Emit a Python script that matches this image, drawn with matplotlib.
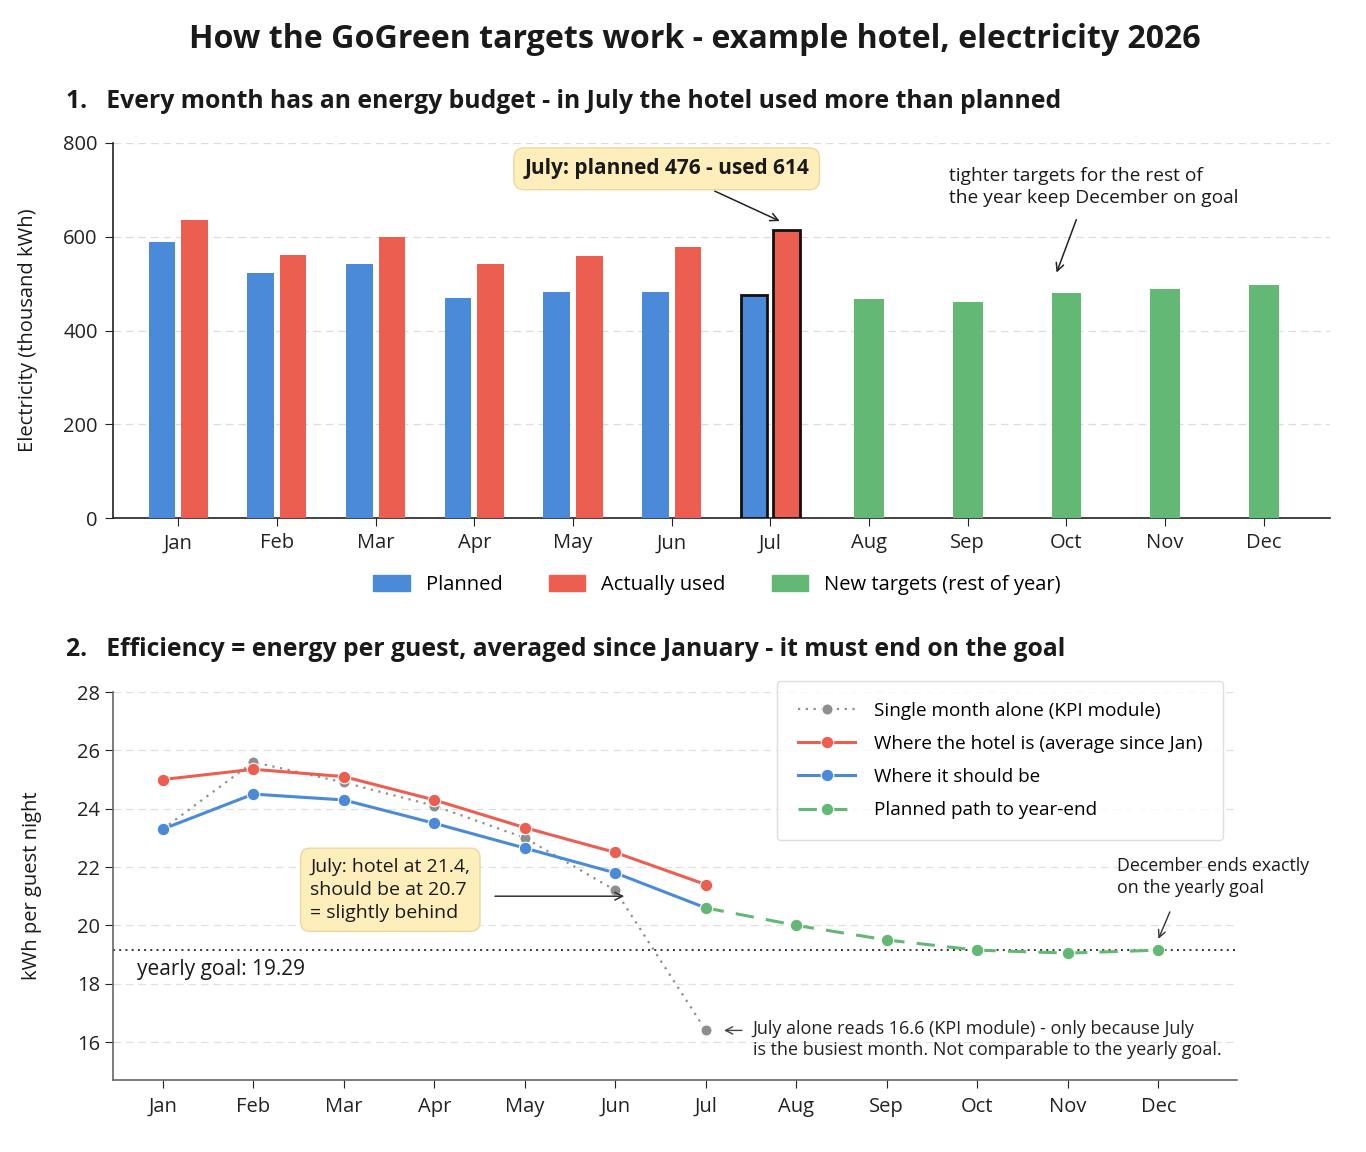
import matplotlib
matplotlib.use("Agg")
import matplotlib.pyplot as plt
from matplotlib.patches import Patch
import numpy as np

plt.rcParams['font.family'] = ['Open Sans', 'DejaVu Sans']

# ---------------- data ----------------
months = ["Jan", "Feb", "Mar", "Apr", "May", "Jun", "Jul", "Aug", "Sep", "Oct", "Nov", "Dec"]
planned = [588, 522, 541, 469, 482, 482, 476]
actual = [635, 562, 600, 542, 559, 578, 614]
new_targets = [468, 460, 481, 489, 498]

single_month = [23.3, 25.6, 24.9, 24.1, 23.0, 21.2, 16.4]
hotel_avg = [25.0, 25.35, 25.1, 24.3, 23.35, 22.5, 21.4]
should_be = [23.3, 24.5, 24.3, 23.5, 22.65, 21.8, 20.6]
planned_path = [20.6, 20.0, 19.5, 19.15, 19.05, 19.15]
goal_line = 19.15

BLUE = "#4a8ad8"
RED = "#ec5f50"
GREEN = "#62b874"
GRAY = "#8e8e8e"
BOX_FC = "#fdeebb"
BOX_EC = "#ead9a0"
TXT = "#1a1a1a"

fig = plt.figure(figsize=(13.66, 11.52), dpi=100)

fig.text(0.509, 0.966, "How the GoGreen targets work - example hotel, electricity 2026",
         ha="center", va="center", fontsize=23.1, fontweight="bold", color=TXT)
fig.text(66/1366, 1-101/1152,
         "1.   Every month has an energy budget - in July the hotel used more than planned",
         ha="left", va="center", fontsize=17.8, fontweight="bold", color=TXT)
fig.text(66/1366, 1-650/1152,
         "2.   Efficiency = energy per guest, averaged since January - it must end on the goal",
         ha="left", va="center", fontsize=17.8, fontweight="bold", color=TXT)

# ---------------- top chart ----------------
ax1 = fig.add_axes([113/1366, 1-518/1152, (1330-113)/1366, (518-143)/1152])
x = np.arange(len(months))
xp = x[:len(planned)]
xn = x[len(planned):]
w = 0.27
off = 0.165
edge_p = ["none"] * (len(planned) - 1) + ["#111111"]
lw_p = [0] * (len(planned) - 1) + [2.0]
ax1.bar(xp - off, planned, width=w, color=BLUE, edgecolor=edge_p, linewidth=lw_p, zorder=3)
ax1.bar(xp + off, actual, width=w, color=RED, edgecolor=edge_p, linewidth=lw_p, zorder=3)
ax1.bar(xn, new_targets, width=0.30, color=GREEN, zorder=3)

ax1.set_xlim(-0.66, 11.67)
ax1.set_ylim(0, 800)
ax1.set_yticks([0, 200, 400, 600, 800])
ax1.set_xticks(x)
ax1.set_xticklabels(months)
ax1.tick_params(axis="both", labelsize=14.5, colors="#222222", length=6, pad=5)
ax1.set_ylabel("Electricity (thousand kWh)", fontsize=14.5, color=TXT, labelpad=18)
ax1.grid(axis="y", linestyle=(0, (6, 4)), color="#dcdcdc", linewidth=0.9, zorder=0)
for s in ["top", "right"]:
    ax1.spines[s].set_visible(False)
for s in ["left", "bottom"]:
    ax1.spines[s].set_color("#222222")
    ax1.spines[s].set_linewidth(1.2)

ax1.text(4.95, 745, "July: planned %d - used %d" % (planned[6], actual[6]),
         ha="center", va="center", fontsize=15, fontweight="bold", color=TXT, zorder=5,
         bbox=dict(boxstyle="round,pad=0.5,rounding_size=0.5", fc=BOX_FC, ec=BOX_EC, lw=1))
ax1.annotate("", xy=(6.12, 631), xytext=(5.41, 700),
             arrowprops=dict(arrowstyle="->", color="#222222", lw=1.1, mutation_scale=14))
ax1.text(7.81, 706, "tighter targets for the rest of\nthe year keep December on goal",
         ha="left", va="center", fontsize=13.8, color=TXT, linespacing=1.3)
ax1.annotate("", xy=(8.89, 518), xytext=(9.11, 642),
             arrowprops=dict(arrowstyle="->", color="#222222", lw=1.1, mutation_scale=14))

handles = [Patch(color=BLUE, label="Planned"),
           Patch(color=RED, label="Actually used"),
           Patch(color=GREEN, label="New targets (rest of year)")]
fig.legend(handles=handles, loc="center", bbox_to_anchor=(0.525, 1-585/1152), ncol=3,
           frameon=False, fontsize=14.5, handlelength=1.8, handleheight=0.85,
           columnspacing=2.3, handletextpad=0.8)

# ---------------- bottom chart ----------------
ax2 = fig.add_axes([113/1366, 1-1080/1152, (1237-113)/1366, (1080-692)/1152])
xa = x[:len(hotel_avg)]
xg = x[len(hotel_avg)-1:]

ax2.plot(xa, single_month, linestyle=(0, (1, 2.5)), color=GRAY, lw=1.6, marker="o",
         markersize=8, markeredgecolor="white", markeredgewidth=0.8, zorder=3,
         label="Single month alone (KPI module)")
ax2.plot(xa, hotel_avg, "-", color=RED, lw=2.2, marker="o", markersize=9,
         markeredgecolor="white", markeredgewidth=0.8, zorder=5,
         label="Where the hotel is (average since Jan)")
ax2.plot(xa, should_be, "-", color=BLUE, lw=2.2, marker="o", markersize=9,
         markeredgecolor="white", markeredgewidth=0.8, zorder=4,
         label="Where it should be")
ax2.plot(xg, planned_path, linestyle=(0, (6, 4)), color=GREEN, lw=2.2, marker="o",
         markersize=9, markeredgecolor="white", markeredgewidth=0.8, zorder=6,
         label="Planned path to year-end")
ax2.axhline(goal_line, color="#333333", linestyle=(0, (1, 2.2)), lw=1.4, zorder=2)

ax2.set_xlim(-0.55, 11.87)
ax2.set_ylim(14.7, 28)
ax2.set_yticks([16, 18, 20, 22, 24, 26, 28])
ax2.set_xticks(x)
ax2.set_xticklabels(months)
ax2.tick_params(axis="both", labelsize=14.5, colors="#222222", length=6)
ax2.tick_params(axis="x", pad=6)
ax2.set_ylabel("kWh per guest night", fontsize=14.5, color=TXT, labelpad=25)
ax2.grid(axis="y", linestyle=(0, (6, 4)), color="#e0e0e0", linewidth=0.9, zorder=0)
for s in ["top", "right"]:
    ax2.spines[s].set_visible(False)
for s in ["left", "bottom"]:
    ax2.spines[s].set_color("#666666")
    ax2.spines[s].set_linewidth(1.2)

ax2.text(-0.28, 18.5, "yearly goal: 19.29", ha="left", va="center", fontsize=15, color=TXT)

ax2.text(1.63, 21.22, "July: hotel at 21.4,\nshould be at 20.7\n= slightly behind",
         ha="left", va="center", fontsize=14, color=TXT, linespacing=1.35, zorder=7,
         bbox=dict(boxstyle="round,pad=0.5,rounding_size=0.5", fc=BOX_FC, ec=BOX_EC, lw=1))
ax2.annotate("", xy=(5.13, 21.0), xytext=(3.64, 21.0),
             arrowprops=dict(arrowstyle="->", color="#333333", lw=1.1, mutation_scale=14))

ax2.text(10.54, 21.66, "December ends exactly\non the yearly goal", ha="left", va="center",
         fontsize=12.8, color=TXT, linespacing=1.3)
ax2.annotate("", xy=(10.99, 19.45), xytext=(11.14, 20.55),
             arrowprops=dict(arrowstyle="->", color="#333333", lw=1.0, mutation_scale=13))

ax2.text(6.52, 16.08,
         "July alone reads 16.6 (KPI module) - only because July\nis the busiest month. Not comparable to the yearly goal.",
         ha="left", va="center", fontsize=13, color="#222222", linespacing=1.25)
ax2.annotate("", xy=(6.17, 16.4), xytext=(6.43, 16.4),
             arrowprops=dict(arrowstyle="->", color="#444444", lw=1.0, mutation_scale=13))

leg = ax2.legend(loc="upper right", bbox_to_anchor=(1223/1366, 1-681/1152),
                 bbox_transform=fig.transFigure, fontsize=13.6, frameon=True,
                 handlelength=3.0, borderpad=1.1, labelspacing=0.8, handletextpad=1.0,
                 borderaxespad=0, fancybox=True)
leg.get_frame().set_edgecolor("#d6d6d6")
leg.get_frame().set_linewidth(1.0)

fig.savefig("out.png", dpi=100, facecolor="white")
